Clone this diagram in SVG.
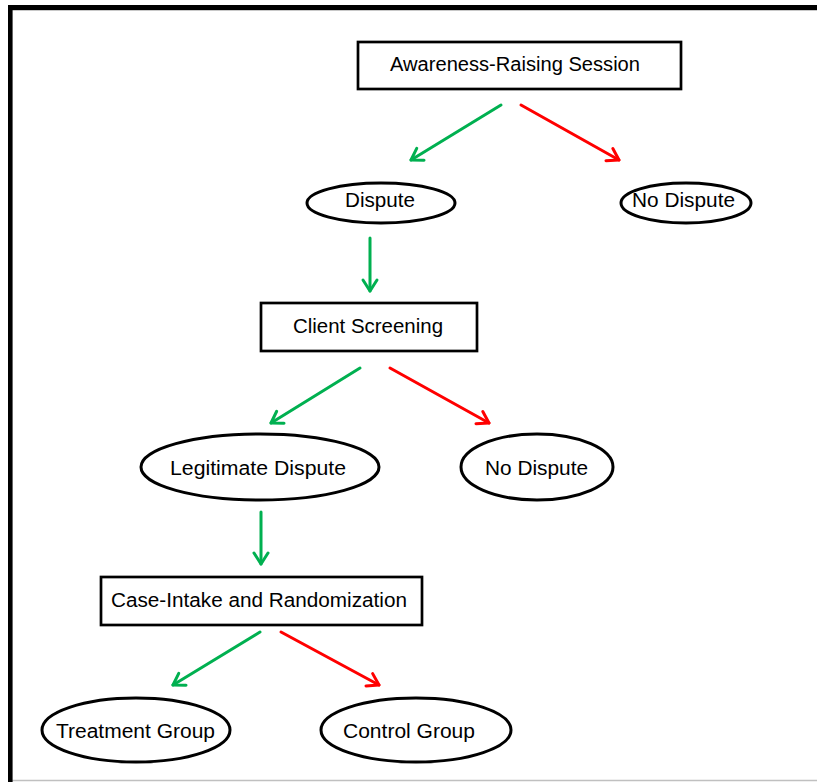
<svg xmlns="http://www.w3.org/2000/svg" width="817" height="782" viewBox="0 0 817 782">
  <style>
    .box { fill: #ffffff; stroke: #000000; stroke-width: 2.7; }
    .oval { fill: #ffffff; stroke: #000000; stroke-width: 3; }
    .lbl { font-family: "Liberation Sans", Arial, sans-serif; font-size: 20px; fill: #000000; }
    .yes { stroke: #00B050; stroke-width: 3; fill: none; stroke-linecap: round; }
    .no { stroke: #FF0000; stroke-width: 3; fill: none; stroke-linecap: round; }
  </style>
  <defs>
    <marker id="headGreen" markerUnits="userSpaceOnUse" orient="auto" markerWidth="30" markerHeight="30" refX="0" refY="0" viewBox="-15 -15 30 30" overflow="visible">
      <path d="M -11 -7 L 0 0 L -11 7" fill="none" stroke="#00B050" stroke-width="3" stroke-linecap="round" stroke-linejoin="round"/>
    </marker>
    <marker id="headRed" markerUnits="userSpaceOnUse" orient="auto" markerWidth="30" markerHeight="30" refX="0" refY="0" viewBox="-15 -15 30 30" overflow="visible">
      <path d="M -11 -7 L 0 0 L -11 7" fill="none" stroke="#FF0000" stroke-width="3" stroke-linecap="round" stroke-linejoin="round"/>
    </marker>
  </defs>

  <rect width="817" height="782" fill="#ffffff"/>

  <!-- outer frame -->
  <g id="frame">
    <line x1="12" y1="780.5" x2="817" y2="780.5" stroke="#c0c0c0" stroke-width="1.5"/>
    <line x1="10" y1="10.5" x2="817" y2="10.5" stroke="#c8c8c8" stroke-width="1"/>
    <line x1="8" y1="7.5" x2="817" y2="7.5" stroke="#000000" stroke-width="5"/>
    <line x1="10.3" y1="5" x2="10.3" y2="782" stroke="#000000" stroke-width="4.6"/>
  </g>

  <!-- connectors -->
  <g id="connectors">
    <line class="yes" x1="501" y1="105" x2="411" y2="160" marker-end="url(#headGreen)"/>
    <line class="no" x1="521" y1="105" x2="619" y2="160" marker-end="url(#headRed)"/>
    <line class="yes" x1="370" y1="238" x2="370" y2="291" marker-end="url(#headGreen)"/>
    <line class="yes" x1="360" y1="368" x2="271" y2="423" marker-end="url(#headGreen)"/>
    <line class="no" x1="390" y1="368" x2="489" y2="423" marker-end="url(#headRed)"/>
    <line class="yes" x1="261" y1="512" x2="261" y2="564" marker-end="url(#headGreen)"/>
    <line class="yes" x1="260" y1="632" x2="173" y2="685" marker-end="url(#headGreen)"/>
    <line class="no" x1="281" y1="632" x2="379" y2="685" marker-end="url(#headRed)"/>
  </g>

  <g id="awareness">
    <rect class="box" x="358" y="42" width="323" height="47"/>
    <text class="lbl" x="390" y="71" textLength="250" lengthAdjust="spacingAndGlyphs">Awareness-Raising Session</text>
  </g>

  <g id="dispute">
    <ellipse class="oval" cx="381" cy="203" rx="74" ry="20"/>
    <text class="lbl" x="345" y="207" textLength="70" lengthAdjust="spacingAndGlyphs">Dispute</text>
  </g>

  <g id="no-dispute-1">
    <ellipse class="oval" cx="686" cy="203" rx="65" ry="20"/>
    <text class="lbl" x="632" y="207" textLength="103" lengthAdjust="spacingAndGlyphs">No Dispute</text>
  </g>

  <g id="client-screening">
    <rect class="box" x="261" y="303" width="216" height="48"/>
    <text class="lbl" x="293" y="333" textLength="150" lengthAdjust="spacingAndGlyphs">Client Screening</text>
  </g>

  <g id="legitimate-dispute">
    <ellipse class="oval" cx="260" cy="467" rx="119" ry="33"/>
    <text class="lbl" x="170" y="475" textLength="176" lengthAdjust="spacingAndGlyphs">Legitimate Dispute</text>
  </g>

  <g id="no-dispute-2">
    <ellipse class="oval" cx="537" cy="467" rx="76" ry="33"/>
    <text class="lbl" x="485" y="475" textLength="103" lengthAdjust="spacingAndGlyphs">No Dispute</text>
  </g>

  <g id="case-intake">
    <rect class="box" x="101" y="577" width="321" height="48"/>
    <text class="lbl" x="111" y="607" textLength="296" lengthAdjust="spacingAndGlyphs">Case-Intake and Randomization</text>
  </g>

  <g id="treatment-group">
    <ellipse class="oval" cx="136" cy="730" rx="94" ry="32"/>
    <text class="lbl" x="56" y="738" textLength="159" lengthAdjust="spacingAndGlyphs">Treatment Group</text>
  </g>

  <g id="control-group">
    <ellipse class="oval" cx="416" cy="730" rx="95" ry="32"/>
    <text class="lbl" x="343" y="738" textLength="132" lengthAdjust="spacingAndGlyphs">Control Group</text>
  </g>
</svg>
